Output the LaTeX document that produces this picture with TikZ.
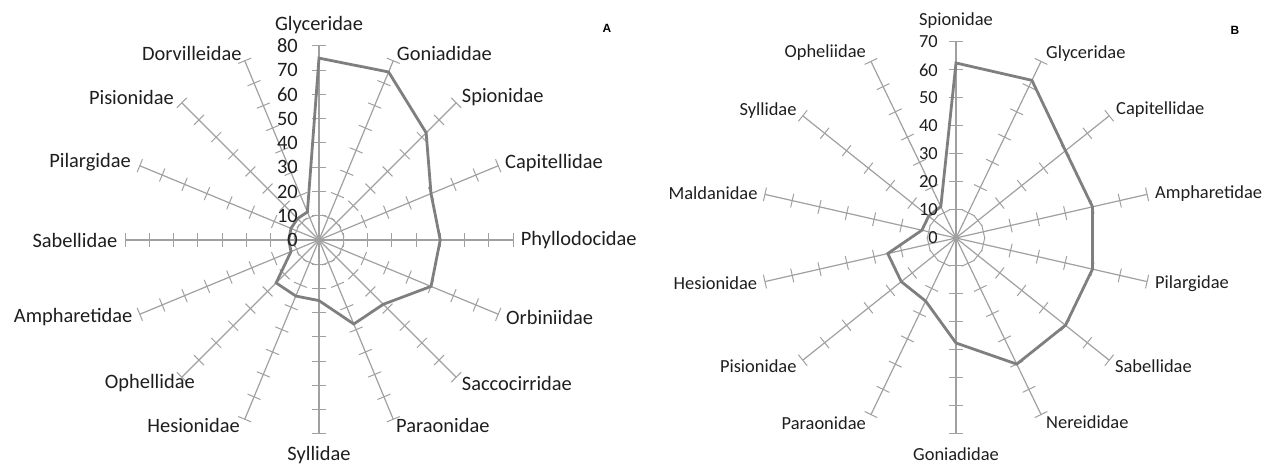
\documentclass[tikz,border=0pt]{standalone}
\usepackage{fontspec}
\setmainfont{Carlito}
\newfontfamily\headfont{Liberation Sans}
\definecolor{axisgray}{HTML}{A0A0A0}
\definecolor{datagray}{HTML}{7F7F7F}
\definecolor{txt}{HTML}{1E1E1E}
\begin{document}
\begin{tikzpicture}[x=1bp,y=1bp,
  axisline/.style={draw=axisgray,line width=1.2bp},
  tickline/.style={draw=axisgray,line width=1bp},
  dataline/.style={draw=datagray,line width=2.8bp,line join=miter,miter limit=6},
  lblA/.style={font=\fontsize{20.5}{24}\selectfont,text=txt,inner sep=0pt},
  lblB/.style={font=\fontsize{18.5}{22}\selectfont,text=txt,inner sep=0pt},
  panel/.style={font=\headfont\bfseries\fontsize{12}{14}\selectfont,text=black,inner sep=0pt}]
\useasboundingbox (0,0) rectangle (1263,464);

% ---------------- Chart A ----------------
\begin{scope}[shift={(319,224)}]
  \foreach \i in {0,...,15}{
    \pgfmathsetmacro{\ang}{90-22.5*\i}
    \begin{scope}[rotate=\ang]
      \draw[axisline] (0,0) -- (194,0);
      \foreach \k in {1,...,8}{
        \draw[tickline] (24.25*\k,-7) -- (24.25*\k,7);
      }
    \end{scope}
  }
  \foreach \v [count=\i from 0] in {75,75,62.5,50,50,50,37.5,37.5,25,25,25,12.5,12.5,12.5,12.5,12.5}{
    \coordinate (pA\i) at ({90-22.5*\i}:{2.425*\v});
  }
  \draw[dataline] (pA0) -- (pA1) -- (pA2) -- (pA3) -- (pA4) -- (pA5) -- (pA6) -- (pA7)
    -- (pA8) -- (pA9) -- (pA10) -- (pA11) -- (pA12) -- (pA13) -- (pA14) -- (pA15) -- cycle;
  \foreach \k in {0,...,8}{
    \pgfmathtruncatemacro{\val}{10*\k}
    \node[lblA,anchor=east] (nA\k) at (-21,24.25*\k) {\val};
  }
\end{scope}

\node[lblA,anchor=center] (aGlyc) at (319,439) {Glyceridae};
\node[lblA,anchor=west] (aGoni) at (396.7,411) {Goniadidae};
\node[lblA,anchor=west] (aSpio) at (461.7,367) {Spionidae};
\node[lblA,anchor=west] (aCapi) at (505,301) {Capitellidae};
\node[lblA,anchor=west] (aPhyl) at (520.7,224) {Phyllodocidae};
\node[lblA,anchor=west] (aOrbi) at (506,147) {Orbiniidae};
\node[lblA,anchor=west] (aSacc) at (461.7,81) {Saccocirridae};
\node[lblA,anchor=west] (aPara) at (396,39) {Paraonidae};
\node[lblA,anchor=center] (aSyll) at (319,9) {Syllidae};
\node[lblA,anchor=east] (aHesi) at (240,39) {Hesionidae};
\node[lblA,anchor=east] (aOphe) at (195,81) {Ophellidae};
\node[lblA,anchor=east] (aAmph) at (132.5,147) {Ampharetidae};
\node[lblA,anchor=east] (aSabe) at (117.5,224) {Sabellidae};
\node[lblA,anchor=east] (aPila) at (131,302) {Pilargidae};
\node[lblA,anchor=east] (aPisi) at (174,367) {Pisionidae};
\node[lblA,anchor=east] (aDorv) at (241.7,411) {Dorvilleidae};
\node[panel] (panelA) at (607,436) {A};

% ---------------- Chart B ----------------
\begin{scope}[shift={(956,226)}]
  \foreach \i in {0,...,13}{
    \pgfmathsetmacro{\ang}{90-360/14*\i}
    \begin{scope}[rotate=\ang]
      \draw[axisline] (0,0) -- (196,0);
      \foreach \k in {1,...,7}{
        \draw[tickline] (28*\k,-7) -- (28*\k,7);
      }
    \end{scope}
  }
  \foreach \v [count=\i from 0] in {62.5,62.5,50,50,50,50,50,37.5,25,25,25,12.5,12.5,12.5}{
    \coordinate (pB\i) at ({90-360/14*\i}:{2.8*\v});
  }
  \draw[dataline] (pB0) -- (pB1) -- (pB2) -- (pB3) -- (pB4) -- (pB5) -- (pB6) -- (pB7)
    -- (pB8) -- (pB9) -- (pB10) -- (pB11) -- (pB12) -- (pB13) -- cycle;
  \foreach \k in {0,...,7}{
    \pgfmathtruncatemacro{\val}{10*\k}
    \node[lblB,anchor=east] (nB\k) at (-18,28*\k) {\val};
  }
\end{scope}

\node[lblB,anchor=center] (bSpio) at (956,443.3) {Spionidae};
\node[lblB,anchor=west] (bGlyc) at (1046,410.7) {Glyceridae};
\node[lblB,anchor=west] (bCapi) at (1116,354) {Capitellidae};
\node[lblB,anchor=west] (bAmph) at (1155,270.7) {Ampharetidae};
\node[lblB,anchor=west] (bPila) at (1155,180.7) {Pilargidae};
\node[lblB,anchor=west] (bSabe) at (1115,98) {Sabellidae};
\node[lblB,anchor=west] (bNere) at (1046,42.3) {Nereididae};
\node[lblB,anchor=center] (bGoni) at (956,10) {Goniadidae};
\node[lblB,anchor=east] (bPara) at (866,41.3) {Paraonidae};
\node[lblB,anchor=east] (bPisi) at (796.7,98.3) {Pisionidae};
\node[lblB,anchor=east] (bHesi) at (757.3,180.7) {Hesionidae};
\node[lblB,anchor=east] (bMald) at (757.7,270.7) {Maldanidae};
\node[lblB,anchor=east] (bSyll) at (796.7,353.3) {Syllidae};
\node[lblB,anchor=east] (bOphe) at (866,411) {Opheliidae};
\node[panel] (panelB) at (1235,434) {B};
\end{tikzpicture}
\end{document}
